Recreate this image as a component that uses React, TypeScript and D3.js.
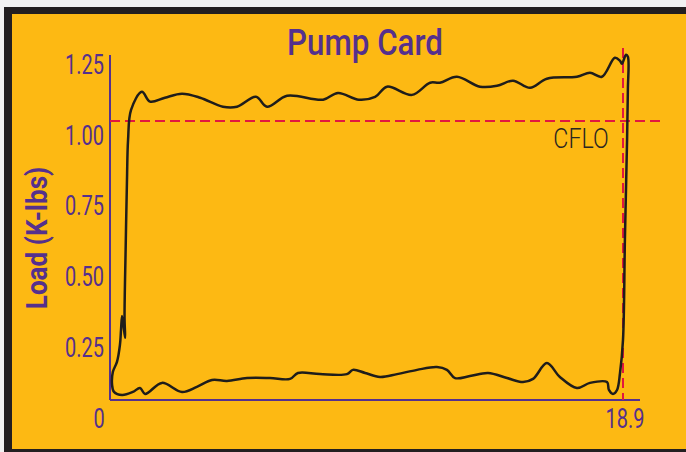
import React, { useEffect, useRef } from 'react';
import * as d3 from 'd3';

// pump card loop (position in inches, load in K-lbs)
const cardPosition = [
  0.04, 0.07, 0.22, 0.33, 0.37, 0.41, 0.52, 0.5, 0.54, 0.59, 0.63, 0.74, 1.14, 1.44, 1.99, 2.62,
  3.29, 4.13, 4.65, 5.35, 5.76, 6.5, 7.83, 8.38, 9.15, 9.75, 10.19, 11.11, 11.78, 12.14, 12.77,
  13.62, 14.25, 14.84, 15.47, 16.09, 17.2, 17.68, 18.12, 18.6, 18.79, 18.86, 19.01, 19.08, 19.08,
  19.05, 18.97, 18.9, 18.79, 18.68, 18.53, 18.38, 18.31, 17.68, 17.2, 16.57, 16.09, 15.58, 15.21,
  14.62, 13.92, 13.25, 12.7, 12.4, 12.03, 11.3, 10.56, 9.93, 9.38, 8.93, 8.71, 7.71, 6.9, 6.61,
  5.87, 5.02, 4.28, 3.73, 3.17, 2.62, 1.88, 1.26, 1.07, 0.81, 0.41, 0.11,
];
const cardLoad = [
  0.117, 0.163, 0.198, 0.258, 0.311, 0.36, 0.283, 0.353, 0.594, 0.841, 0.982, 1.088, 1.152, 1.117,
  1.131, 1.145, 1.131, 1.099, 1.099, 1.134, 1.099, 1.138, 1.124, 1.148, 1.124, 1.134, 1.17, 1.141,
  1.184, 1.184, 1.205, 1.17, 1.173, 1.191, 1.166, 1.198, 1.205, 1.219, 1.205, 1.272, 1.261, 1.251,
  1.283, 1.276, 1.159, 0.982, 0.629, 0.276, 0.159, 0.099, 0.085, 0.099, 0.127, 0.124, 0.106, 0.145,
  0.194, 0.138, 0.127, 0.141, 0.159, 0.148, 0.141, 0.17, 0.18, 0.17, 0.155, 0.145, 0.159, 0.17,
  0.155, 0.155, 0.159, 0.138, 0.141, 0.141, 0.131, 0.134, 0.11, 0.092, 0.124, 0.085, 0.106, 0.092,
  0.081, 0.092,
];

const yTicks = [0.25, 0.5, 0.75, 1.0, 1.25];
const xTicks = [0, 18.9];
const cfloLoad = 1.049;
const strokeLength = 18.9;

const W = 686;
const H = 452;
const ORANGE = '#fdb913';
const PURPLE = '#55308d';
const RED = '#e2173f';
const FONT = 'Roboto, sans-serif';

// condensed look: squeeze a normal font horizontally
function label(g: any, x: number, y: number, txt: string, o: any) {
  return g.append('text')
    .attr('transform', `translate(${x},${y}) ${o.rotate ? 'rotate(-90) ' : ''}scale(${o.sx},1)`)
    .attr('text-anchor', o.anchor || 'middle')
    .attr('dy', o.dy || null)
    .attr('font-family', FONT)
    .attr('font-weight', o.weight || 400)
    .attr('font-size', o.size)
    .attr('fill', o.fill || PURPLE)
    .text(txt);
}

export default function App() {
  const ref = useRef<SVGSVGElement>(null);

  useEffect(() => {
    const svg = d3.select(ref.current);
    svg.selectAll('*').remove();

    // frame
    svg.append('rect').attr('width', W).attr('height', H).attr('fill', '#f2f2f2');
    svg.append('rect').attr('x', 4).attr('y', 7).attr('width', W).attr('height', H).attr('fill', '#231f20');
    svg.append('rect').attr('x', 12).attr('y', 14).attr('width', W).attr('height', 435).attr('fill', ORANGE);

    const x = d3.scaleLinear().domain([0, 18.9]).range([111, 623]);
    const y = d3.scaleLinear().domain([0, 1.25]).range([418, 64]);

    label(svg, 365, 55, 'Pump Card', { size: 36, sx: 0.87, weight: 500 });
    label(svg, 47, 238, 'Load (K-lbs)', { size: 29, sx: 0.9, weight: 700, rotate: true });

    // y ticks
    yTicks.forEach(d => {
      label(svg, 104, y(d), d3.format('.2f')(d), { size: 27, sx: 0.74, anchor: 'end', dy: '0.36em' });
    });
    // x ticks
    xTicks.forEach(d => {
      label(svg, d === 0 ? x(d) - 12 : x(d) + 2, y(0), String(d), { size: 27, sx: 0.74, dy: '0.36em' });
    });

    // axes
    svg.append('line').attr('x1', 110).attr('x2', 110).attr('y1', 55).attr('y2', 400)
      .attr('stroke', PURPLE).attr('stroke-width', 2);
    svg.append('line').attr('x1', 110).attr('x2', 640).attr('y1', 400).attr('y2', 400)
      .attr('stroke', PURPLE).attr('stroke-width', 2);

    // CFLO + stroke length markers
    svg.append('line')
      .attr('x1', 110).attr('x2', 665).attr('y1', y(cfloLoad)).attr('y2', y(cfloLoad))
      .attr('stroke', RED).attr('stroke-width', 2).attr('stroke-dasharray', '10,5');
    svg.append('line')
      .attr('x1', x(strokeLength)).attr('x2', x(strokeLength)).attr('y1', 48).attr('y2', 400)
      .attr('stroke', RED).attr('stroke-width', 2).attr('stroke-dasharray', '10,5');
    label(svg, 581, y(cfloLoad) + 27, 'CFLO', { size: 27, sx: 0.86, weight: 300, fill: '#2a2622' });

    // card
    const pts = cardPosition.map((p, i) => [p, cardLoad[i]] as [number, number]);
    const line = d3.line<[number, number]>()
      .x(d => x(d[0]))
      .y(d => y(d[1]))
      .curve(d3.curveCatmullRomClosed.alpha(0.5));
    svg.append('path')
      .attr('d', line(pts))
      .attr('fill', 'none')
      .attr('stroke', '#1f1d1b')
      .attr('stroke-width', 2.5)
      .attr('stroke-linejoin', 'round');
  }, []);

  return (
    <div style={{ position: 'absolute', left: 0, top: 0 }}>
      <svg ref={ref} width={W} height={H} style={{ display: 'block' }} />
    </div>
  );
}
